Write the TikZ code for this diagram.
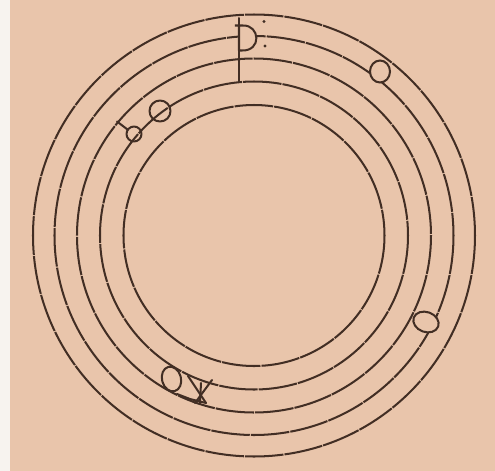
\documentclass[tikz,border=0pt]{standalone}
\usepackage{xcolor}
\usepackage{tikz}
\definecolor{pgbeige}{RGB}{233,197,171}
\definecolor{pgmargin}{RGB}{247,243,239}
\definecolor{pgink}{RGB}{66,46,36}

\begin{document}
\begin{tikzpicture}[x=0.02cm, y=-0.02cm,
  ring/.style={draw=pgink, line width=1.15pt, dash pattern=on 22pt off 0.6pt},
  glyph/.style={draw=pgink, line width=1.15pt, fill=pgbeige},
  pen/.style={draw=pgink, line width=1.15pt, line cap=round, line join=round}
]
% paper
\fill[pgmargin] (0,0) rectangle (495,471);
\fill[pgbeige] (10,0) rectangle (495,471);
\useasboundingbox (0,0) rectangle (495,471);

% rings
\coordinate (centre) at (254,235.5);
\foreach \r in {221,199.5,177,154,130.5}
  \draw[ring] (centre) circle[radius=\r];

% top mark with stem and dots
\draw[pen] (239,18) -- (239,82);
\filldraw[glyph, line join=round] (235,25.5) -- (243,25.5) .. controls (260,25) and (262,51) .. (242,50.5) -- (239,50.5) -- (239,25.5);
\fill[pgink] (264,21.5) circle[radius=1.6];
\fill[pgink] (265,46) circle[radius=1.6];

% small o, upper right
\draw[glyph] (380,71.5) ellipse[x radius=10, y radius=11];

% 6 and theta, upper left
\draw[pen] (160,111) circle[radius=10.5];
\draw[pen] (117,121.5) -- (127.5,129.5);
\draw[pen] (134,134) circle[radius=7.5];

% O, right
\draw[glyph, rotate around={-20:(426,322)}] (426,322) ellipse[x radius=13, y radius=10];

% O and X, lower left
\draw[glyph, rotate around={15:(171.5,379)}] (171.5,379) ellipse[x radius=9.5, y radius=12.5];
\draw[pen] (188,376) -- (206,403);
\draw[pen] (212,380) -- (195,403);
\draw[pen] (201,383) -- (200,403);
\draw[pen] (177,394) -- (190,399) -- (206,403);
\end{tikzpicture}
\end{document}
